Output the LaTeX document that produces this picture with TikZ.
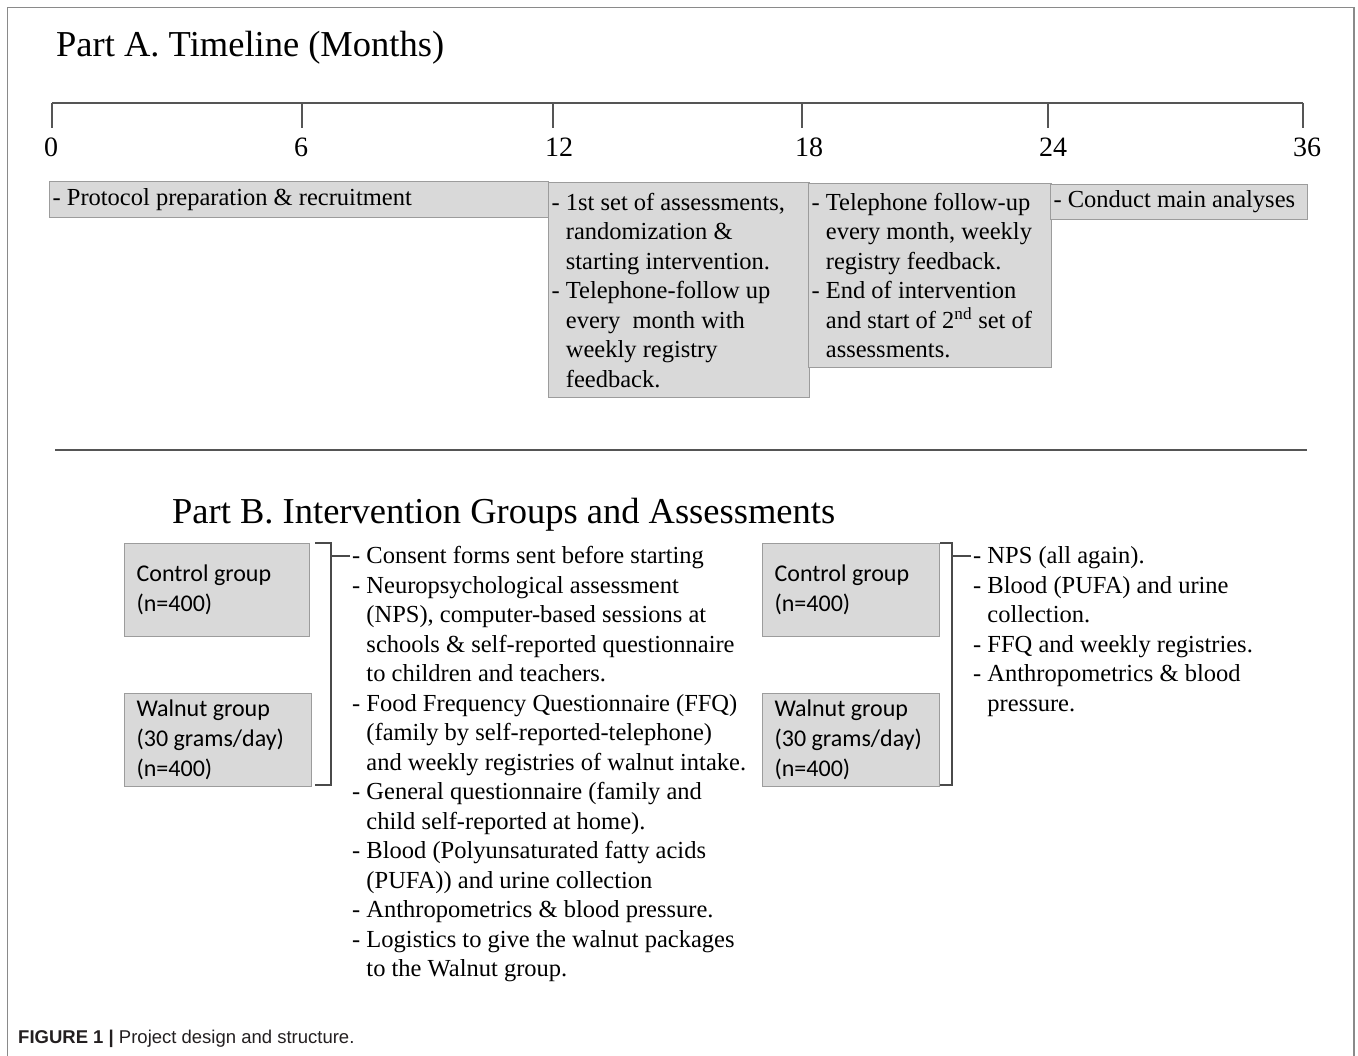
\documentclass[tikz,border=0pt]{standalone}
\usepackage{fontspec}
\setmainfont{Liberation Serif}
\newfontfamily\calibfont{Carlito}
\newfontfamily\capfont{Liberation Sans}
\definecolor{boxfill}{HTML}{D9D9D9}
\definecolor{boxline}{HTML}{9C9C9C}
\definecolor{axiscol}{HTML}{555555}
\definecolor{framecol}{HTML}{8A8A8A}
\definecolor{brackcol}{HTML}{4A4A4A}
\definecolor{captext}{HTML}{231F20}
\newcommand\bodyfont{\fontsize{24.5}{29.5}\selectfont}
\newcommand\ind{\hphantom{-~}}
\newcommand\natsp{\spaceskip=0pt\xspaceskip=0pt\relax}
\begin{document}
\begin{tikzpicture}[x=1pt,y=-1pt,
  titletext/.style={anchor=base west,inner sep=0pt,font=\fontsize{36.5}{44}\selectfont},
  ticklabel/.style={anchor=base,inner sep=0pt,font=\fontsize{28}{33}\selectfont},
  tlbox/.style={draw=boxline,fill=boxfill,line width=1.2pt,anchor=north west,
    inner xsep=3pt,inner ysep=0pt,align=left,font=\bodyfont},
  grpbox/.style={draw=boxline,fill=boxfill,line width=1.2pt,anchor=north west,
    inner xsep=12pt,inner ysep=0pt,align=left,font=\calibfont\fontsize{24}{29.8}\selectfont},
  listtext/.style={anchor=north west,inner sep=0pt,align=left,font=\bodyfont},
  axis/.style={draw=axiscol,line width=1.6pt},
  brack/.style={draw=brackcol,line width=1.3pt}]
\useasboundingbox (0,0) rectangle (1358,1056);

% frame
\coordinate (fbl) at (7.5,1056);
\coordinate (ftl) at (7.5,7.5);
\coordinate (ftr) at (1354,7.5);
\coordinate (fbr) at (1354,1056);
\draw[framecol,line width=1.5pt] (fbl) -- (ftl) -- (ftr) -- (fbr);

% Part A
\node[titletext] (titleA) at (56,57) {Part A. Timeline (Months)};

\coordinate (t0) at (52,103);
\coordinate (t6) at (302,103);
\coordinate (t12) at (553,103);
\coordinate (t18) at (802,103);
\coordinate (t24) at (1048,103);
\coordinate (t36) at (1303,103);
\draw[axis] (t0) -- (t36);
\foreach \t in {t0,t6,t12,t18,t24,t36}{\draw[axis] (\t) -- ++(0,25);}

\node[ticklabel] (l0) at (51,157) {0};
\node[ticklabel] (l6) at (301,157) {6};
\node[ticklabel] (l12) at (559,157) {12};
\node[ticklabel] (l18) at (809,157) {18};
\node[ticklabel] (l24) at (1053,157) {24};
\node[ticklabel] (l36) at (1307,157) {36};

\node[tlbox,text width=493pt,minimum width=499pt,minimum height=36pt] (boxA1) at (49,181)
  {\natsp\mbox{- Protocol preparation \& recruitment}};
\node[tlbox,text width=255pt,minimum width=261pt,minimum height=215pt] (boxA2) at (548,182)
  {\natsp\mbox{- 1st set of assessments,}\\
   \mbox{\ind randomization \&}\\
   \mbox{\ind starting intervention.}\\
   \mbox{- Telephone-follow up}\\
   \mbox{\ind every\ \ month with}\\
   \mbox{\ind weekly registry}\\
   \mbox{\ind feedback.}};
\node[tlbox,text width=237pt,minimum width=243pt,minimum height=184pt] (boxA3) at (808,183)
  {\natsp\mbox{- Telephone follow-up}\\
   \mbox{\ind every month, weekly}\\
   \mbox{\ind registry feedback.}\\
   \mbox{- End of intervention}\\
   \mbox{\ind and start of 2\textsuperscript{nd} set of}\\
   \mbox{\ind assessments.}};
\node[tlbox,text width=251pt,minimum width=257pt,minimum height=35pt] (boxA4) at (1050,184)
  {\natsp\mbox{- Conduct main analyses}};

% separator
\coordinate (sepL) at (55,450);
\coordinate (sepR) at (1307,450);
\draw[axis,line width=1.5pt] (sepL) -- (sepR);

% Part B
\node[titletext] (titleB) at (172,523) {Part B. Intervention Groups and Assessments};

\node[grpbox,text width=161pt,minimum width=185pt,minimum height=93pt] (ctrl1) at (124,543)
  {\natsp Control group\\(n=400)};
\node[grpbox,text width=163pt,minimum width=187pt,minimum height=93pt] (waln1) at (124,693)
  {\natsp Walnut group\\(30 grams/day)\\(n=400)};
\node[grpbox,text width=153pt,minimum width=177pt,minimum height=93pt] (ctrl2) at (762,543)
  {\natsp Control group\\(n=400)};
\node[grpbox,text width=153pt,minimum width=177pt,minimum height=93pt] (waln2) at (762,693)
  {\natsp Walnut group\\(30 grams/day)\\(n=400)};

% left bracket
\coordinate (b1a) at (315,543);
\coordinate (b1b) at (331,543);
\coordinate (b1c) at (331,785);
\coordinate (b1d) at (315,785);
\coordinate (b1s) at (331,556);
\coordinate (b1e) at (350,556);
\draw[brack] (b1a) -- (b1b) -- (b1c) -- (b1d);
\draw[brack] (b1s) -- (b1e);

% right bracket
\coordinate (b2a) at (940,543);
\coordinate (b2b) at (952,543);
\coordinate (b2c) at (952,785);
\coordinate (b2d) at (940,785);
\coordinate (b2s) at (952,556);
\coordinate (b2e) at (971,556);
\draw[brack] (b2a) -- (b2b) -- (b2c) -- (b2d);
\draw[brack] (b2s) -- (b2e);

\node[listtext] (list1) at (352,543)
  {\strut- Consent forms sent before starting\\
   - Neuropsychological assessment\\
   \ind (NPS), computer-based sessions at\\
   \ind schools \& self-reported questionnaire\\
   \ind to children and teachers.\\
   - Food Frequency Questionnaire (FFQ)\\
   \ind (family by self-reported-telephone)\\
   \ind and weekly registries of walnut intake.\\
   - General questionnaire (family and\\
   \ind child self-reported at home).\\
   - Blood (Polyunsaturated fatty acids\\
   \ind (PUFA)) and urine collection\\
   - Anthropometrics \& blood pressure.\\
   - Logistics to give the walnut packages\\
   \ind to the Walnut group.};

\node[listtext] (list2) at (973,543)
  {\strut- NPS (all again).\\
   - Blood (PUFA) and urine\\
   \ind collection.\\
   - FFQ and weekly registries.\\
   - Anthropometrics \& blood\\
   \ind pressure.};

% caption
\node[anchor=base west,inner sep=0pt,text=captext,font=\capfont\fontsize{18.5}{22}\selectfont] (caption) at (18,1043)
  {\textbf{FIGURE 1 |} Project design and structure.};
\end{tikzpicture}
\end{document}
